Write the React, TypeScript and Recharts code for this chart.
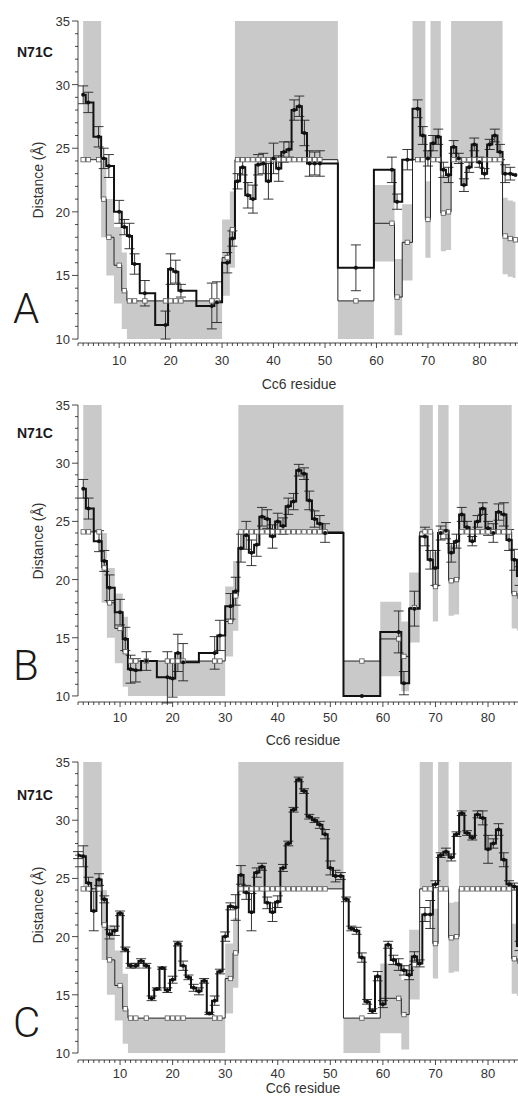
import React from 'react';
import { ComposedChart, Area, Line, XAxis, YAxis, ErrorBar, ReferenceLine } from 'recharts';

// ---- panel A (residue, measured distance, error, model value, model range) ----
const resA = [
  3, 4, 6, 7, 8, 10, 11, 12, 13, 15, 19, 20, 21, 22, 28, 29, 31, 32,
  33, 34, 35, 36, 37, 38, 39, 40, 41, 42, 43, 44, 45, 46, 47, 48, 49,
  56, 63, 64, 66,
  68, 69, 70, 71, 72, 73, 74, 75, 76, 77, 78, 79, 80, 81, 82, 83, 84, 85, 86, 87,
];
const distA = [
  29.2, 28.6, 25.9, 24.2, 23.6, 20.0, 18.8, 18.1, 15.9, 13.6, 11.1, 15.5, 15.3, 13.8, 12.6, 12.9, 16.0, 17.9,
  22.4, 23.5, 21.3, 21.0, 23.7, 23.8, 22.4, 24.2, 23.4, 24.7, 24.9, 28.0, 28.3, 26.2, 23.8, 23.8, 23.8,
  15.6, 23.3, 20.8, 24.1,
  28.1, 26.0, 24.2, 25.4, 25.9, 23.3, 22.9, 25.1, 24.2, 22.1, 23.5, 25.3, 23.9, 23.0, 25.3, 26.0, 24.7, 23.0, 23.0, 22.9,
];
const errA = [
  0.7, 0.8, 0.8, 0.8, 0.9, 0.9, 0.6, 1.0, 0.8, 1.0, 1.1, 1.2, 0.9, 0.5, 1.8, 1.6, 0.8, 0.6,
  0.6, 0.6, 1.0, 1.1, 0.8, 0.8, 1.4, 1.2, 1.0, 0.8, 0.6, 0.8, 0.8, 1.0, 1.0, 0.9, 1.0,
  1.8, 1.0, 0.6, 0.8,
  0.7, 0.7, 0.6, 0.6, 0.6, 0.6, 0.6, 0.5, 0.4, 0.5, 0.4, 0.5, 0.4, 0.4, 0.4, 0.5, 0.6, 0.7, 0.5, null,
];
const modelA = [
  24.1, 24.1, 24.1, 21.0, 18.0, 15.8, 13.8, 13.0, 13.0, 13.0, 13.0, 13.0, 13.0, 13.0, 13.0, 13.0, 16.4, 18.6,
  24.1, 24.1, 24.1, 24.1, 24.1, 24.1, 24.1, 24.1, 24.1, 24.1, 24.1, 24.1, 24.1, 24.1, 24.1, 24.1, 24.1,
  13.0, 19.1, 13.3, 17.6,
  24.1, 24.1, 19.4, 24.1, 24.1, 19.9, 20.0, 24.1, 24.1, 24.1, 24.1, 24.1, 24.1, 24.1, 24.1, 24.1, 24.1, 18.1, 17.9, 17.8,
];
const lowA = [
  24.1, 24.1, 24.1, 18.0, 15.0, 12.8, 10.8, 10, 10, 10, 10, 10, 10, 10, 10, 10, 13.4, 15.6,
  24.1, 24.1, 24.1, 24.1, 24.1, 24.1, 24.1, 24.1, 24.1, 24.1, 24.1, 24.1, 24.1, 24.1, 24.1, 24.1, 24.1,
  10, 16.1, 10.3, 14.6,
  24.1, 24.1, 16.4, 24.1, 24.1, 16.9, 17.0, 24.1, 24.1, 24.1, 24.1, 24.1, 24.1, 24.1, 24.1, 24.1, 24.1, 15.1, 14.9, 14.8,
];
const highA = [
  35, 35, 35, 24.0, 21.0, 18.8, 16.8, 13, 13, 13, 13, 13, 13, 13, 13, 13, 19.4, 21.6,
  35, 35, 35, 35, 35, 35, 35, 35, 35, 35, 35, 35, 35, 35, 35, 35, 35,
  13, 22.1, 16.3, 20.6,
  35, 35, 22.4, 35, 35, 22.9, 23.0, 35, 35, 35, 35, 35, 35, 35, 35, 35, 35, 21.1, 20.9, 20.8,
];

// ---- panel B ----
const modelRes = [
  3, 4, 6, 7, 8, 10, 11, 12, 13, 15, 19, 20, 21, 22, 28, 29, 31, 32,
  33, 34, 35, 36, 37, 38, 39, 40, 41, 42, 43, 44, 45, 46, 47, 48, 49,
  56, 63, 64, 66,
  68, 69, 70, 71, 72, 73, 74, 75, 76, 77, 78, 79, 80, 81, 82, 83, 84, 85, 86,
];
const distB = [
  27.8, 26.1, 23.3, 21.6, 19.3, 17.2, 14.9, 12.3, 12.2, 13.0, 11.6, 11.5, 13.7, 12.9, 13.7, 15.2, 17.7, 19.0,
  22.7, 23.8, 22.3, 23.0, 25.4, 25.2, 23.7, 25.0, 24.6, 26.3, 26.7, 29.4, 29.1, 26.8, 25.2, 24.8, 24.0,
  10.0, 15.5, 11.1, 17.5,
  23.7, 21.7, 21.0, 24.0, 24.2, 22.3, 23.3, 25.6, 24.5, 23.3, 25.0, 26.1, 24.4, 24.0, 25.8, 25.6, 23.4, 21.7, 20.3,
];
const errB = [
  0.8, 0.9, 0.9, 0.9, 1.1, 1.1, 1.0, 1.2, 1.0, 0.8, 2.2, 1.6, 1.6, 1.6, 1.4, 1.3, 1.1, 1.2,
  1.2, 1.2, 1.1, 1.0, 0.8, 0.8, 1.0, 0.7, 0.7, 0.7, 0.7, 0.5, 0.5, 0.8, 0.7, 0.7, 0.8,
  null, 1.8, 1.0, 1.5,
  0.8, 0.8, 1.5, 0.6, 0.7, 0.8, 0.6, 0.6, 0.5, 0.4, 0.5, 0.5, 0.6, 0.8, 0.7, 1.0, 0.9, 0.9, 0.8,
];
const modelB = [
  24.1, 24.1, 24.1, 21.0, 18.0, 15.8, 13.8, 13.0, 13.0, 13.0, 13.0, 13.0, 13.0, 13.0, 13.0, 13.0, 16.4, 18.6,
  24.1, 24.1, 24.1, 24.1, 24.1, 24.1, 24.1, 24.1, 24.1, 24.1, 24.1, 24.1, 24.1, 24.1, 24.1, 24.1, 24.1,
  13.0, 14.9, 13.4, 17.6,
  24.1, 24.1, 19.4, 24.1, 24.1, 19.9, 20.0, 24.1, 24.1, 24.1, 24.1, 24.1, 24.1, 24.1, 24.1, 24.1, 24.1, 18.8, 18.6,
];
const lowB = [
  24.1, 24.1, 24.1, 18.0, 15.0, 12.8, 10.8, 10, 10, 10, 10, 10, 10, 10, 10, 10, 13.4, 15.6,
  24.1, 24.1, 24.1, 24.1, 24.1, 24.1, 24.1, 24.1, 24.1, 24.1, 24.1, 24.1, 24.1, 24.1, 24.1, 24.1, 24.1,
  10, 11.7, 10.4, 14.6,
  24.1, 24.1, 16.4, 24.1, 24.1, 16.9, 17.0, 24.1, 24.1, 24.1, 24.1, 24.1, 24.1, 24.1, 24.1, 24.1, 24.1, 15.8, 15.6,
];
const highB = [
  35, 35, 35, 24.0, 21.0, 18.8, 16.8, 13, 13, 13, 13, 13, 13, 13, 13, 13, 19.4, 21.6,
  35, 35, 35, 35, 35, 35, 35, 35, 35, 35, 35, 35, 35, 35, 35, 35, 35,
  13, 18.1, 16.4, 20.6,
  35, 35, 22.4, 35, 35, 22.9, 23.0, 35, 35, 35, 35, 35, 35, 35, 35, 35, 35, 21.8, 21.6,
];

// ---- panel C ----
const resC = [
  2, 3, 4, 5, 6, 7, 8, 9, 10, 11, 12, 13, 14, 15, 16, 17, 18, 19, 20, 21,
  22, 23, 24, 25, 26, 27, 28, 29, 30, 31, 32, 33, 34, 35, 36, 37, 38, 39, 40, 41,
  42, 43, 44, 45, 46, 47, 48, 49, 50, 51, 52, 53, 54, 55, 56, 57, 58, 59, 60, 61,
  62, 63, 64, 65, 66, 67, 68, 69, 70, 71, 72, 73, 74, 75, 76, 77, 78, 79, 80, 81,
  82, 83, 84, 85, 86,
];
const distC = [
  27.0, 26.9, 24.6, 22.2, 24.9, 23.2, 20.2, 20.5, 22.0, 18.9,
  17.5, 17.5, 17.9, 17.5, 14.7, 15.5, 17.3, 15.4, 16.3, 19.4,
  17.5, 16.5, 15.6, 15.3, 16.2, 13.4, 14.5, 17.0, 20.0, 22.6,
  22.5, 25.3, 23.8, 22.1, 25.5, 26.0, 22.9, 22.1, 23.0, 25.9,
  28.0, 30.9, 33.5, 32.5, 30.3, 30.0, 29.6, 28.8, 25.9, 25.2,
  25.2, 23.2, 20.7, 20.5, 18.2, 14.4, 13.6, 16.6, 14.2, 19.3,
  18.0, 17.6, 17.1, 16.7, 18.3, 17.7, 21.9, 21.9, 24.5, 27.0,
  27.3, 26.8, 28.8, 30.6, 28.9, 28.5, 30.5, 30.2, 27.5, 28.0,
  29.2, 26.6, 24.5, 24.3, 19.2,
];
const errC = [
  0.3, 0.9, 0.5, 1.7, 0.5, 0.3, 0.4, 0.4, 0.2, 0.2,
  0.2, 0.2, 0.2, 0.2, 0.2, 0.1, 0.1, 0.2, 0.3, 0.2,
  0.4, 0.2, 0.3, 0.3, 0.2, 0.1, 0.4, 0.2, 0.4, 0.3,
  1.1, 0.8, 0.6, 1.6, 0.4, 0.3, 0.5, 0.8, 0.5, 0.3,
  0.2, 0.2, 0.2, 0.2, 0.2, 0.2, 0.3, 0.4, 0.6, 0.5,
  0.3, 0.2, 0.2, 0.3, 0.4, 0.2, 0.2, 0.4, 0.3, 0.3,
  0.4, 0.5, 0.4, 0.4, 0.4, 0.3, 0.6, 1.2, 0.3, 0.2,
  0.3, 0.3, 0.2, 0.2, 0.2, 0.2, 0.3, 0.6, 1.2, 0.4,
  0.5, 0.6, 0.3, 0.3, 0.4,
];
const modelC = [
  24.1, 24.1, 24.1, 21.0, 18.0, 15.8, 13.8, 13.0, 13.0, 13.0, 13.0, 13.0, 13.0, 13.0, 13.0, 13.0, 16.4, 18.6,
  24.1, 24.1, 24.1, 24.1, 24.1, 24.1, 24.1, 24.1, 24.1, 24.1, 24.1, 24.1, 24.1, 24.1, 24.1, 24.1, 24.1,
  13.0, 14.7, 13.3, 17.6,
  24.1, 24.1, 19.4, 24.1, 24.1, 19.9, 20.0, 24.1, 24.1, 24.1, 24.1, 24.1, 24.1, 24.1, 24.1, 24.1, 24.1, 18.1, 17.9,
];
const lowC = [
  24.1, 24.1, 24.1, 18.0, 15.0, 12.8, 10.8, 10, 10, 10, 10, 10, 10, 10, 10, 10, 13.4, 15.6,
  24.1, 24.1, 24.1, 24.1, 24.1, 24.1, 24.1, 24.1, 24.1, 24.1, 24.1, 24.1, 24.1, 24.1, 24.1, 24.1, 24.1,
  10, 11.7, 10.3, 14.6,
  24.1, 24.1, 16.4, 24.1, 24.1, 16.9, 17.0, 24.1, 24.1, 24.1, 24.1, 24.1, 24.1, 24.1, 24.1, 24.1, 24.1, 15.1, 14.9,
];
const highC = [
  35, 35, 35, 24.0, 21.0, 18.8, 16.8, 13, 13, 13, 13, 13, 13, 13, 13, 13, 19.4, 21.6,
  35, 35, 35, 35, 35, 35, 35, 35, 35, 35, 35, 35, 35, 35, 35, 35, 35,
  13, 17.7, 16.3, 20.6,
  35, 35, 22.4, 35, 35, 22.9, 23.0, 35, 35, 35, 35, 35, 35, 35, 35, 35, 35, 21.1, 20.9,
];

const yTicks = [10, 11, 12, 13, 14, 15, 16, 17, 18, 19, 20, 21, 22, 23, 24, 25, 26, 27, 28, 29, 30, 31, 32, 33, 34, 35];
const xMajor = [10, 20, 30, 40, 50, 60, 70, 80];

const FONT = '"Liberation Sans", Arial, Helvetica, sans-serif';
const INK = '#1a1a1a';

type Row = { res: number; dist: number | null; err: number | null; model: number | null; band: number[] | null };

function buildRows(res: number[], dist: (number | null)[], err: (number | null)[], mRes: number[], model: number[], low: number[], high: number[]): Row[] {
  const all = Array.from(new Set([...res, ...mRes])).sort((a, b) => a - b);
  return all.map((r) => {
    const i = res.indexOf(r);
    const j = mRes.indexOf(r);
    return {
      res: r,
      dist: i >= 0 ? dist[i] : null,
      err: i >= 0 ? err[i] : null,
      model: j >= 0 ? model[j] : null,
      band: j >= 0 ? [low[j], high[j]] : null,
    };
  });
}

const rowsA = buildRows(resA, distA, errA, resA, modelA, lowA, highA);
const rowsB = buildRows(modelRes, distB, errB, modelRes, modelB, lowB, highB);
const rowsC = buildRows(resC, distC, errC, modelRes, modelC, lowC, highC);

// minor ticks every residue
function minorTicks(from: number, to: number) {
  const t: number[] = [];
  for (let v = from; v <= to; v++) t.push(v);
  return t;
}

const XTick = (props: any) => {
  const { x, y, payload, labelDy } = props;
  const v = payload.value;
  const major = xMajor.includes(v);
  return (
    <g>
      <line x1={x} x2={x} y1={y} y2={y + (major ? 5 : 3)} stroke={INK} strokeWidth={0.8} />
      {major && (
        <text x={x} y={y + labelDy} textAnchor="middle" fontSize={13} fontFamily={FONT} fill="#333">
          {v}
        </text>
      )}
    </g>
  );
};

const YTick = (props: any) => {
  const { x, y, payload } = props;
  const v = payload.value;
  const major = v % 5 === 0;
  return (
    <g>
      <line x1={x} x2={x - (major ? 6 : 3)} y1={y} y2={y} stroke={INK} strokeWidth={0.8} />
      {major && (
        <text x={x - 8} y={y + 5} textAnchor="end" fontSize={13} fontFamily={FONT} fill="#333">
          {v}
        </text>
      )}
    </g>
  );
};

const SquareDot = (p: any) => {
  if (p.cx == null || p.cy == null || p.value == null) return <g key={p.index} />;
  return <rect key={p.index} x={p.cx - 2.2} y={p.cy - 2.2} width={4.4} height={4.4} fill="#fff" stroke="#555" strokeWidth={0.8} />;
};

const FilledDot = (p: any) => {
  if (p.cx == null || p.cy == null || p.value == null) return <g key={p.index} />;
  return <circle key={p.index} cx={p.cx} cy={p.cy} r={2} fill="#111" />;
};

interface PanelProps {
  rows: Row[];
  top: number;
  height: number;
  marginTop: number;
  xMax: number;
  yMin: number;
  labelDy: number;
}

function Panel({ rows, top, height, marginTop, xMax, yMin, labelDy }: PanelProps) {
  return (
    <div style={{ position: 'absolute', left: 0, top }}>
      <ComposedChart width={518} height={height} data={rows} margin={{ top: marginTop, right: 0, bottom: 0, left: 0 }}>
        <XAxis
          dataKey="res"
          type="number"
          domain={[2, xMax]}
          allowDataOverflow
          ticks={minorTicks(2, Math.floor(xMax))}
          interval={0}
          tickSize={0}
          tickMargin={0}
          tickLine={false}
          axisLine={{ stroke: INK, strokeWidth: 0.8 }}
          tick={<XTick labelDy={labelDy} />}
          height={30}
        />
        <YAxis
          type="number"
          domain={[yMin, 35]}
          allowDataOverflow
          ticks={yTicks}
          interval={0}
          tickSize={0}
          tickMargin={0}
          tickLine={false}
          axisLine={false}
          tick={<YTick />}
          width={78}
        />
        <Area
          type="step"
          dataKey="band"
          connectNulls
          stroke="none"
          fill="#c9c9c9"
          fillOpacity={1}
          dot={false}
          activeDot={false}
          isAnimationActive={false}
        />
        <Line
          type="step"
          dataKey="model"
          connectNulls
          stroke="#222"
          strokeWidth={1}
          dot={SquareDot}
          activeDot={false}
          isAnimationActive={false}
        />
        <Line
          type="step"
          dataKey="dist"
          connectNulls
          stroke="#111"
          strokeWidth={2}
          dot={FilledDot}
          activeDot={false}
          isAnimationActive={false}
        >
          <ErrorBar dataKey="err" width={5} stroke="#222" strokeWidth={0.9} direction="y" isAnimationActive={false} />
        </Line>
        <ReferenceLine segment={[{ x: 2, y: 10 }, { x: 2, y: 35 }]} stroke={INK} strokeWidth={0.8} />
      </ComposedChart>
    </div>
  );
}

const panelText = [
  { letter: 'A', tagY: 57, letterY: 323, labelY: 180, titleX: 299, titleY: 389 },
  { letter: 'B', tagY: 438, letterY: 680, labelY: 541, titleX: 303, titleY: 745 },
  { letter: 'C', tagY: 800, letterY: 1037, labelY: 905, titleX: 303, titleY: 1093 },
];

export default function App() {
  return (
    <div style={{ position: 'absolute', left: 0, top: 0, width: 518, height: 1102, background: '#fff', overflow: 'hidden' }}>
      <Panel rows={rowsA} top={0} height={373} marginTop={21} xMax={87.5} yMin={9.69} labelDy={22} />
      <Panel rows={rowsB} top={380} height={352} marginTop={25} xMax={85.7} yMin={9.48} labelDy={20} />
      <Panel rows={rowsC} top={740} height={350} marginTop={22} xMax={85.7} yMin={9.4} labelDy={18} />
      <svg width={518} height={1102} style={{ position: 'absolute', left: 0, top: 0, pointerEvents: 'none' }}>
        {panelText.map((p) => (
          <g key={p.letter} fill={INK} fontFamily={FONT}>
            <text x={17} y={p.tagY} fontSize={14} fontWeight="bold">N71C</text>
            <text x={13} y={p.letterY} fontSize={42} fontFamily='Roboto, "Liberation Sans", Arial, sans-serif' fontWeight={300}>
              {p.letter}
            </text>
            <text x={43} y={p.labelY} fontSize={14} textAnchor="middle" transform={`rotate(-90 43 ${p.labelY})`} fill="#333">
              Distance (Å)
            </text>
            <text x={p.titleX} y={p.titleY} fontSize={14} textAnchor="middle" fill="#333">
              Cc6 residue
            </text>
          </g>
        ))}
      </svg>
    </div>
  );
}
